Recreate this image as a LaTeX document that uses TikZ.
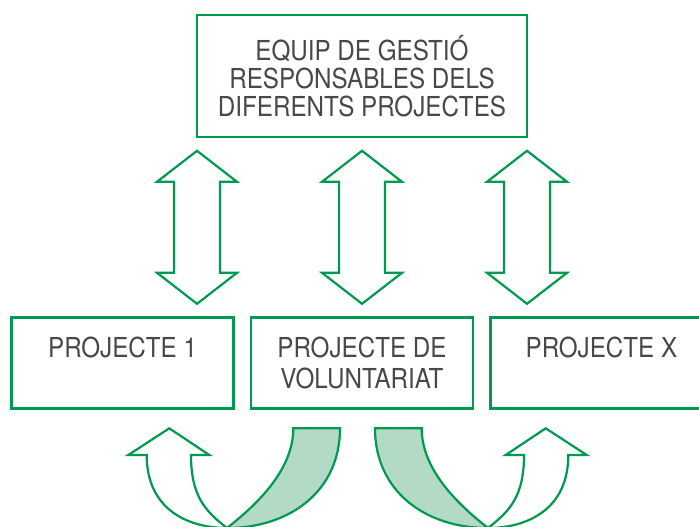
\documentclass[tikz,border=0pt]{standalone}
\usepackage{fontspec}
\setmainfont{TeX Gyre Heros}[FakeStretch=0.88]
\usetikzlibrary{positioning}
\usetikzlibrary{calc}
\definecolor{ecgreen}{RGB}{0,154,78}
\definecolor{ecpale}{RGB}{178,218,196}
\definecolor{ecgray}{RGB}{72,72,72}

\begin{document}
\begin{tikzpicture}[x=1pt, y=1pt,
    PRJ/.style={rectangle, draw=ecgreen, fill=white, line width=2.5pt, inner sep=0pt, outer sep=0pt, minimum width=222pt, minimum height=91pt, align=center, text=ecgray, font=\fontsize{27.5pt}{31pt}\selectfont},
    EQP/.style={PRJ, minimum width=330pt, minimum height=122pt, font=\fontsize{27.5pt}{28.3pt}\selectfont},
    ARW/.style={draw=ecgreen, line width=2.2pt, fill=white},
    updown/.pic={\draw[ARW] (0,76.5) -- (40,45.5) -- (23,45.5) -- (23,-45.5) -- (40,-45.5) -- (0,-76.5)
                  -- (-40,-45.5) -- (-23,-45.5) -- (-23,45.5) -- (-40,45.5) -- cycle;},
    twist/.pic={\draw[ARW, fill=ecpale] (0,0) .. controls (28,22) and (66.3,57) .. (66.3,99.7)
                  -- (113,99.7) .. controls (113,37) and (63,0) .. (0,0) -- cycle;
                \draw[ARW] (0,0) .. controls (-22,17) and (-36,32) .. (-36,73) -- (-17.7,73) -- (-57.7,99.7)
                  -- (-98.7,73) -- (-80.3,73) .. controls (-80.3,17) and (-37,0) .. (0,0) -- cycle;}]

            \useasboundingbox (0,0) rectangle (699,527);

            \node[EQP] (gestio) at (362,451) {EQUIP DE GESTIÓ\\
                                              RESPONSABLES DELS\\
                                              DIFERENTS PROJECTES};

            \node[PRJ, below = 180.6pt of gestio] (volunt) {PROJECTE DE\\VOLUNTARIAT};
            \node[PRJ, left = 17.4pt of volunt] (proj1) {PROJECTE 1\\\mbox{}};
            \node[PRJ, right = 17.4pt of volunt] (projX) {PROJECTE X\\\mbox{}};

            \pic at ($(gestio.south west)!0.5!(gestio.south west |- volunt.north)$) {updown};
            \pic at ($(gestio.south)!0.5!(gestio.south |- volunt.north)$) {updown};
            \pic at ($(gestio.south east)!0.5!(gestio.south east |- volunt.north)$) {updown};

            \coordinate (twistL) at (227,-1);
            \coordinate (twistR) at (488,-1);
            \pic at (twistL) {twist};
            \pic[xscale=-1] at (twistR) {twist};
        \end{tikzpicture}
\end{document}
